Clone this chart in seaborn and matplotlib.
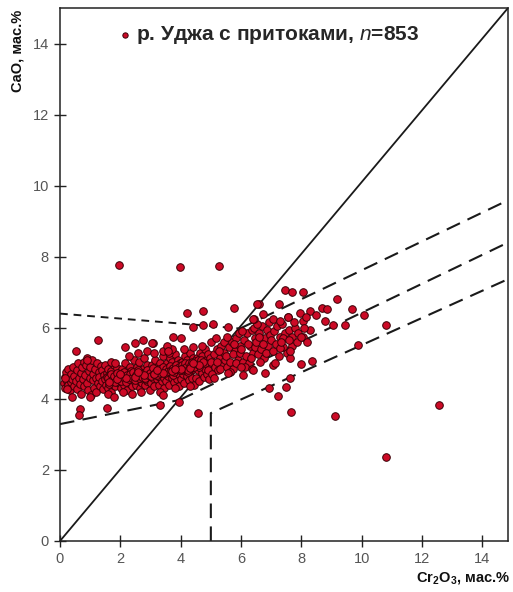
import matplotlib
matplotlib.use('Agg')
import matplotlib.pyplot as plt
import seaborn as sns
import pandas as pd

# ---- data ----
cr2o3 = [
    0.12, 0.15, 0.18, 0.2, 0.22, 0.25, 0.28, 0.3, 0.33, 0.35, 0.38, 0.4, 0.42, 0.45, 0.48,
    0.52, 0.55, 0.58, 0.6, 0.62, 0.65, 0.68, 0.7, 0.72, 0.75, 0.78, 0.8, 0.82, 0.85, 0.88, 0.9, 0.92, 0.95, 0.98,
    1.0, 1.02, 1.05, 1.08, 1.1, 1.12, 1.15, 1.18, 1.2, 1.22, 1.25, 1.28, 1.3, 1.32, 1.35, 1.38, 1.4, 1.42, 1.45, 1.48,
    1.5, 1.52, 1.55, 1.58, 1.6, 1.62, 1.65, 1.68, 1.7, 1.72, 1.75, 1.78, 1.8, 1.82, 1.85, 1.88, 1.9, 1.92, 1.95, 1.98,
    1.55, 1.65, 1.75, 1.85, 1.95, 1.6, 1.8, 1.7,
    2.0, 2.02, 2.05, 2.08, 2.1, 2.12, 2.15, 2.18, 2.2, 2.22, 2.25, 2.28, 2.3, 2.32, 2.35, 2.38, 2.4, 2.42, 2.45, 2.48,
    2.05, 2.15, 2.25, 2.35, 2.45, 2.1, 2.3, 2.4,
    2.5, 2.52, 2.55, 2.58, 2.6, 2.62, 2.65, 2.68, 2.7, 2.72, 2.75, 2.78, 2.8, 2.82, 2.85, 2.88, 2.9, 2.92, 2.95, 2.98,
    2.55, 2.65, 2.75, 2.85, 2.95, 2.6, 2.9, 2.7,
    3.0, 3.02, 3.05, 3.08, 3.1, 3.12, 3.15, 3.18, 3.2, 3.22, 3.25, 3.28, 3.3, 3.32, 3.35, 3.38, 3.4, 3.42, 3.45, 3.48,
    3.05, 3.15, 3.25, 3.35, 3.45, 3.1, 3.3, 3.42,
    3.5, 3.52, 3.55, 3.58, 3.6, 3.62, 3.65, 3.68, 3.7, 3.72, 3.75, 3.78, 3.8, 3.82, 3.85, 3.88, 3.9, 3.92, 3.95, 3.98,
    3.55, 3.65, 3.75, 3.85, 3.95, 3.6, 3.8, 3.7,
    4.0, 4.02, 4.05, 4.08, 4.1, 4.12, 4.15, 4.18, 4.2, 4.22, 4.25, 4.28, 4.3, 4.32, 4.35, 4.38, 4.4, 4.42, 4.45, 4.48,
    4.05, 4.15, 4.25, 4.35, 4.45, 4.1, 4.3, 4.4,
    4.5, 4.52, 4.55, 4.58, 4.6, 4.62, 4.65, 4.68, 4.7, 4.72, 4.75, 4.78, 4.8, 4.82, 4.85, 4.88, 4.9, 4.92, 4.95, 4.98,
    4.6, 4.8, 4.9, 4.7,
    5.0, 5.05, 5.1, 5.15, 5.2, 5.25, 5.3, 5.35, 5.4, 5.45, 5.02, 5.12, 5.22, 5.32, 5.42, 5.48, 5.28, 5.18,
    5.5, 5.55, 5.6, 5.65, 5.7, 5.75, 5.8, 5.85, 5.9, 5.95, 5.52, 5.62, 5.72, 5.82, 5.92, 5.98, 5.56, 5.76,
    6.0, 6.05, 6.1, 6.15, 6.2, 6.25, 6.3, 6.35, 6.4, 6.45, 6.02, 6.12, 6.22, 6.32, 6.42, 6.48, 6.0, 6.07, 6.36, 6.4,
    6.5, 6.55, 6.6, 6.65, 6.7, 6.75, 6.8, 6.85, 6.9, 6.95, 6.52, 6.62, 6.72, 6.82, 6.92, 6.58, 6.8, 6.92,
    7.0, 7.05, 7.1, 7.15, 7.2, 7.25, 7.3, 7.35, 7.4, 7.45, 7.05, 7.28, 7.05, 7.22, 7.28, 7.38, 7.12, 7.32,
    7.55, 7.52, 7.62, 7.62, 7.5, 7.68, 7.6, 7.7, 7.8, 7.85, 7.95, 7.9, 7.75, 7.58,
    8.05, 8.05, 8.0, 8.3, 8.48, 8.28, 8.35, 8.68, 8.84, 8.77, 8.1, 8.2, 8.15,
    # dense core (extra)
    1.58, 1.63, 1.68, 1.73, 1.78, 1.83, 1.88, 1.93, 1.98, 2.03, 2.08, 2.13, 2.18, 2.23, 2.28, 2.33,
    2.38, 2.43, 2.48, 2.53, 2.58, 2.63, 2.68, 2.73, 2.78, 2.83, 2.88, 2.93, 2.98, 3.03, 3.08, 3.13,
    3.18, 3.23, 3.28, 3.33, 3.38, 3.43, 3.48, 3.53, 3.58, 3.63, 3.68, 3.73, 3.78, 3.83, 3.88, 3.93,
    3.98, 4.03, 4.08, 4.13, 4.18, 4.23, 4.28, 4.33, 4.38, 4.43, 4.48, 4.53, 4.58, 4.63, 4.68, 4.73,
    1.62, 1.9, 2.2, 2.5, 2.8, 3.1, 3.4, 3.7, 4.0, 4.3, 4.6, 2.0, 2.6, 3.2, 3.8, 4.4,
    # scattered points
    7.45, 7.68, 8.05, 6.6, 7.25, 6.72, 6.42, 7.55, 8.0, 7.62,
    9.17, 9.67, 10.07, 9.05, 9.44, 10.8, 9.87,
    4.2, 4.74, 5.76, 6.52, 4.4, 4.74, 5.07, 5.56, 6.4,
    3.74, 4.0, 3.08, 3.54, 3.58, 3.4, 3.94, 3.3, 4.57,
    1.26, 0.53, 0.66, 0.63, 1.56, 0.4, 0.99, 0.23, 0.17, 0.9,
    2.15, 2.48, 2.75, 3.05, 1.82,
    1.95, 3.97, 5.27, 12.55, 10.8, 9.1, 7.65,
]
cao = [
    4.45, 4.62, 4.3, 4.75, 4.5, 4.38, 4.85, 4.6, 4.25, 4.7, 4.48, 4.55, 4.9, 4.35, 4.65,
    4.5, 4.8, 4.28, 5.0, 4.6, 4.42, 4.72, 4.15, 4.9, 4.55, 5.05, 4.35, 4.68, 4.95, 4.45, 5.15, 4.25, 4.78, 4.6,
    4.9, 4.1, 5.1, 4.52, 4.7, 4.3, 4.85, 4.58, 4.2, 5.0, 4.45, 4.75, 4.62, 4.35, 4.92, 4.5, 4.8, 4.28, 4.68, 4.95,
    4.55, 4.4, 4.72, 4.3, 4.85, 4.6, 4.5, 4.2, 4.78, 4.65, 4.42, 4.95, 4.58, 4.35, 4.7, 4.5, 4.88, 4.62, 4.45, 4.75,
    4.62, 4.68, 4.52, 4.6, 4.55, 4.15, 4.05, 5.05,
    4.65, 4.3, 4.85, 4.5, 4.72, 4.4, 5.0, 4.6, 4.55, 4.25, 4.8, 4.68, 4.45, 4.9, 4.62, 4.35, 4.75, 4.55, 5.1, 4.48,
    4.6, 4.7, 4.52, 4.78, 4.65, 4.2, 5.2, 4.15,
    4.7, 4.4, 4.9, 4.6, 4.52, 5.05, 4.3, 4.75, 4.65, 4.45, 4.85, 4.58, 5.15, 4.38, 4.7, 4.95, 4.5, 4.8, 4.62, 4.25,
    4.68, 4.58, 4.72, 4.55, 4.78, 5.3, 5.35, 4.2,
    4.75, 4.45, 4.95, 4.6, 4.82, 4.35, 5.1, 4.68, 4.55, 4.9, 4.72, 4.4, 5.0, 4.62, 4.85, 4.5, 5.2, 4.7, 4.3, 4.92,
    4.7, 4.8, 4.65, 4.75, 4.6, 5.3, 4.2, 5.35,
    4.8, 4.5, 5.0, 4.65, 4.9, 4.4, 5.15, 4.72, 4.6, 5.05, 4.82, 4.48, 5.25, 4.7, 4.95, 4.55, 5.1, 4.78, 4.35, 5.0,
    4.75, 4.88, 4.68, 4.82, 4.7, 5.3, 4.3, 5.4,
    4.85, 4.55, 5.05, 4.7, 4.95, 4.45, 5.2, 4.8, 4.65, 5.1, 4.9, 4.52, 5.3, 4.75, 5.0, 4.6, 5.15, 4.85, 4.4, 5.05,
    4.8, 4.92, 4.75, 4.88, 4.95, 5.4, 4.35, 5.45,
    4.95, 4.6, 5.15, 4.8, 5.05, 4.5, 5.3, 4.88, 4.72, 5.2, 5.0, 4.62, 5.4, 4.85, 5.1, 4.7, 5.25, 4.95, 4.55, 5.15,
    4.9, 5.0, 4.82, 5.5,
    5.05, 4.7, 5.25, 4.9, 5.4, 4.8, 5.15, 5.5, 4.95, 5.3, 5.6, 4.6, 5.05, 4.85, 5.6, 5.1, 5.35, 5.7,
    5.2, 4.9, 5.45, 5.05, 5.6, 4.85, 5.35, 5.7, 5.1, 5.5, 5.75, 4.75, 5.25, 5.0, 5.85, 5.3, 4.72, 5.55,
    5.4, 5.05, 5.65, 5.2, 5.85, 5.0, 5.5, 5.95, 5.3, 5.7, 5.9, 4.9, 5.55, 5.15, 6.0, 5.45, 4.9, 4.66, 4.83, 4.8,
    5.6, 5.25, 5.85, 5.4, 6.05, 5.15, 5.7, 5.95, 5.5, 5.8, 6.1, 5.05, 5.55, 5.3, 6.15, 5.75, 4.72, 4.3,
    5.65, 5.35, 5.9, 5.55, 6.05, 5.2, 5.75, 6.1, 5.45, 5.85, 6.24, 6.2, 4.94, 4.07, 5.42, 5.7, 5.0, 5.6,
    6.3, 5.28, 5.14, 4.6, 4.33, 5.5, 5.95, 5.75, 6.0, 5.6, 6.43, 5.85, 6.15, 5.65,
    6.2, 5.73, 4.97, 6.46, 6.35, 5.93, 5.06, 6.57, 6.52, 6.18, 6.0, 5.6, 6.3,
    # dense core (extra)
    4.58, 4.42, 4.7, 4.52, 4.64, 4.47, 4.72, 4.56, 4.66, 4.5, 4.62, 4.75, 4.48, 4.68, 4.57, 4.7,
    4.6, 4.76, 4.54, 4.66, 4.8, 4.58, 4.7, 4.62, 4.74, 4.6, 4.82, 4.68, 4.72, 4.64, 4.86, 4.7,
    4.76, 4.66, 4.84, 4.72, 4.8, 4.9, 4.74, 4.85, 4.78, 4.92, 4.8, 4.88, 4.76, 4.94, 4.84, 4.9,
    4.82, 4.96, 4.88, 5.0, 4.9, 4.82, 5.02, 4.94, 5.04, 4.9, 5.06, 4.98, 5.08, 5.0, 5.1, 5.04,
    4.48, 4.55, 4.6, 4.62, 4.66, 4.7, 4.74, 4.78, 4.84, 4.88, 4.96, 4.7, 4.75, 4.8, 4.85, 5.0,
    # scattered points
    7.05, 7.0, 7.02, 6.68, 6.68, 6.4, 6.26, 6.3, 5.75, 5.35,
    6.8, 6.52, 6.35, 6.07, 6.07, 6.07, 5.53,
    6.43, 6.46, 6.57, 6.68, 6.01, 6.07, 6.1, 6.01, 6.26,
    5.73, 5.7, 5.56, 5.5, 5.36, 4.1, 3.9, 3.82, 3.6,
    5.67, 5.36, 3.71, 3.54, 3.73, 4.04, 4.04, 4.27, 4.58, 5.08,
    5.45, 5.56, 5.65, 5.56, 5.0,
    7.78, 7.7, 7.75, 3.82, 2.36, 3.51, 3.62,
]

# reference lines of the diagram
diag_x, diag_y = [0.0, 14.85], [0.0, 15.0]
upper_short_x, upper_short_y = [0.0, 5.97], [6.4, 5.98]
upper_long_x, upper_long_y = [5.97, 14.8], [5.98, 9.57]
lower_left_x, lower_left_y = [0.0, 3.97], [3.29, 3.97]
middle_x, middle_y = [3.97, 14.8], [3.97, 8.38]
bottom_x, bottom_y = [5.0, 5.0, 14.8], [0.0, 3.6, 7.35]

x_ticks = [0, 2, 4, 6, 8, 10, 12, 14]
y_ticks = [0, 2, 4, 6, 8, 10, 12, 14]
legend_label = 'р. Уджа с притоками, $\\mathit{n}$=853'

df = pd.DataFrame({'Cr2O3': cr2o3, 'CaO': cao})

sns.set_style('ticks')
plt.rcParams['font.family'] = ['Liberation Sans', 'DejaVu Sans']
plt.rcParams['mathtext.fontset'] = 'custom'
plt.rcParams['mathtext.it'] = 'Liberation Sans:italic'
plt.rcParams['mathtext.rm'] = 'Liberation Sans:bold'
plt.rcParams['mathtext.bf'] = 'Liberation Sans:bold'

fig = plt.figure(figsize=(5.13, 5.92), dpi=100)
ax = fig.add_axes([60 / 513, 51 / 592, 448 / 513, 533 / 592])

ax.plot(diag_x, diag_y, color='#1a1a1a', lw=1.3, zorder=1)
ax.plot(upper_short_x, upper_short_y, color='#1a1a1a', lw=1.4, dashes=(4, 3), zorder=1)
for xs, ys in [(upper_long_x, upper_long_y), (lower_left_x, lower_left_y),
               (middle_x, middle_y), (bottom_x, bottom_y)]:
    ax.plot(xs, ys, color='#1a1a1a', lw=1.5, dashes=(7, 4), zorder=1)

sns.scatterplot(data=df, x='Cr2O3', y='CaO', ax=ax, s=30, color='#cc0a26',
                edgecolor='#3a0006', linewidth=0.7, label=legend_label, zorder=3)

ax.set_xlim(0, 14.85)
ax.set_ylim(0, 15)
ax.set_xticks(x_ticks)
ax.set_yticks(y_ticks)
ax.tick_params(direction='inout', length=8, width=1, color='#222222',
               labelcolor='#555555', labelsize=10.5, pad=4)
for sp in ax.spines.values():
    sp.set_color('#222222')
    sp.set_linewidth(1.1)
ax.set_xlabel('')
ax.set_ylabel('')

ax.text(-0.094, 0.997, 'CaO, мас.%', transform=ax.transAxes, rotation=90,
        ha='center', va='top', fontsize=10.5, fontweight='bold', color='#111111')
ax.text(1.005, -0.07, 'Cr$_\\mathbf{2}$O$_\\mathbf{3}$, мас.%', transform=ax.transAxes,
        ha='right', va='center', fontsize=10.5, fontweight='bold', color='#111111')

leg = ax.legend(loc='upper left', bbox_to_anchor=(0.113, 0.985), frameon=False,
                handletextpad=0.2, handlelength=0.6, markerscale=0.7, borderaxespad=0,
                prop={'size': 15, 'weight': 'bold'})

fig.savefig('out.png', dpi=100)
